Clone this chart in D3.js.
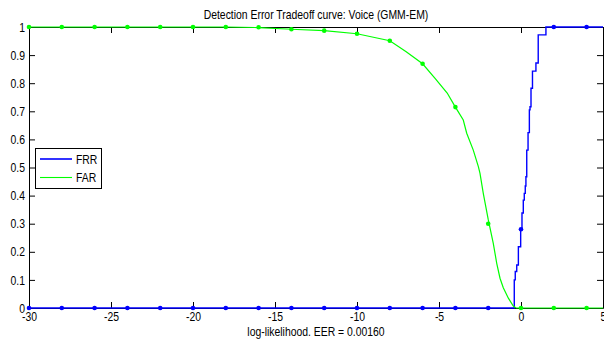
<!DOCTYPE html>
<html><head><meta charset="utf-8">
<script src="https://cdn.jsdelivr.net/npm/d3@7"></script>
<style>body{margin:0;background:#fff}svg{display:block}text{font-family:"Liberation Sans",Arial,sans-serif;fill:#000}</style>
</head><body>
<svg id="c" width="604" height="351"></svg>
<script>
// ---- data ----
const title = "Detection Error Tradeoff curve: Voice (GMM-EM)";
const xLabel = "log-likelihood. EER = 0.00160";
const xTicks = [-30,-25,-20,-15,-10,-5,0,5];
const yTicks = [0,0.1,0.2,0.3,0.4,0.5,0.6,0.7,0.8,0.9,1];
const seriesNames = ["FRR","FAR"];
// FRR stepped curve (threshold, rate)
const frrX = [-30,-0.41,-0.35,-0.26,-0.16,-0.02,0.06,0.14,0.20,0.26,0.30,0.35,0.43,0.51,0.55,0.61,0.70,0.91,1.05,1.52,5];
const frrY = [0,0.10,0.13,0.153,0.218,0.278,0.338,0.384,0.408,0.434,0.467,0.562,0.624,0.705,0.716,0.782,0.843,0.872,0.972,1.0,1.0];
// FAR curve
const farX = [-30,-18,-16,-14,-12,-10,-8,-7,-6,-5.24,-4.5,-4,-3.52,-3.31,-2.91,-2.6,-2.5,-2.3,-2.0,-1.69,-1.48,-1.28,-1.08,-0.77,-0.47,-0.3,5];
const farY = [1,1,0.998,0.992,0.987,0.976,0.951,0.912,0.869,0.817,0.765,0.715,0.669,0.622,0.562,0.503,0.479,0.408,0.315,0.230,0.159,0.106,0.072,0.035,0.007,0,0];
// markers
const markX = [-30,-28,-26,-24,-22,-20,-18,-16,-14,-12,-10,-8,-6,-4,-2,0,2,4];
const frrMark = [0,0,0,0,0,0,0,0,0,0,0,0,0,0,0,0.28,1,1];
const farMark = [1,1,1,1,1,1,1,0.999,0.992,0.987,0.976,0.951,0.869,0.715,0.30,0,0,0];

const colors = {FRR:"#0000ff", FAR:"#00ff00"};

const svg = d3.select("#c");
const x = d3.scaleLinear().domain([-30,5]).range([29,603]);
const y = d3.scaleLinear().domain([0,1]).range([308,27]);

// axes
const g = svg.append("g");
g.append("g").attr("transform","translate(0,308)")
  .call(d3.axisBottom(x).tickValues(xTicks).tickSizeInner(-6).tickSizeOuter(0).tickPadding(4).tickFormat(d=>String(d)));
g.append("g").attr("transform","translate(0,27)")
  .call(d3.axisTop(x).tickValues(xTicks).tickSizeInner(-6).tickSizeOuter(0).tickFormat(""));
g.append("g").attr("transform","translate(29,0)")
  .call(d3.axisLeft(y).tickValues(yTicks).tickSizeInner(-6).tickSizeOuter(0).tickPadding(4).tickFormat(d=>String(+d.toFixed(1))));
g.append("g").attr("transform","translate(603,0)")
  .call(d3.axisRight(y).tickValues(yTicks).tickSizeInner(-6).tickSizeOuter(0).tickFormat(""));
g.selectAll(".domain").attr("stroke","#000");
g.selectAll(".tick line").attr("stroke","#000");
g.selectAll(".tick text").attr("font-size",13).attr("font-family","Liberation Sans, Arial").attr("fill","#000");

// curves
const frrData = frrX.map((v,i)=>[v,frrY[i]]);
const farData = farX.map((v,i)=>[v,farY[i]]);
svg.append("path").datum(frrData)
  .attr("d", d3.line().x(d=>x(d[0])).y(d=>y(d[1])).curve(d3.curveStepAfter))
  .attr("fill","none").attr("stroke",colors.FRR).attr("stroke-width",1.4);
svg.append("path").datum(farData)
  .attr("d", d3.line().x(d=>x(d[0])).y(d=>y(d[1])).curve(d3.curveLinear))
  .attr("fill","none").attr("stroke",colors.FAR).attr("stroke-width",1.2);

svg.append("g").selectAll("circle").data(markX).join("circle")
  .attr("cx",d=>x(d)).attr("cy",(d,i)=>y(frrMark[i])).attr("r",2.3).attr("fill",colors.FRR);
svg.append("g").selectAll("circle").data(markX).join("circle")
  .attr("cx",d=>x(d)).attr("cy",(d,i)=>y(farMark[i])).attr("r",2.3).attr("fill",colors.FAR);

// title & label
svg.append("text").attr("x",316).attr("y",19).attr("text-anchor","middle").attr("font-size",13).text(title);
svg.append("text").attr("x",316).attr("y",336).attr("text-anchor","middle").attr("font-size",13).text(xLabel);

// legend
const lg = svg.append("g");
lg.append("rect").attr("x",35.5).attr("y",148.5).attr("width",66).attr("height",40).attr("fill","#fff").attr("stroke","#000");
seriesNames.forEach((n,i)=>{
  const yy = 159 + i*18.5;
  lg.append("line").attr("x1",40).attr("x2",72).attr("y1",yy).attr("y2",yy).attr("stroke",colors[n]).attr("stroke-width", n==="FRR"?1.6:1.1);
  lg.append("text").attr("x",76).attr("y",yy+4.5).attr("font-size",13).text(n);
});

// condense text horizontally
svg.selectAll("text").each(function(){
  const w = this.getComputedTextLength();
  if (w>0) { this.setAttribute("textLength", (w*0.8).toFixed(2)); this.setAttribute("lengthAdjust","spacingAndGlyphs"); }
});
</script>
</body></html>
